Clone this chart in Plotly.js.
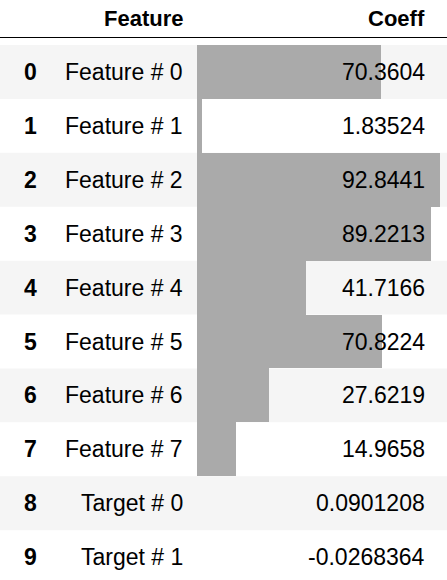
<!DOCTYPE html>
<html><head><script src="https://cdn.plot.ly/plotly-3.0.1.min.js"></script>
<style>body{margin:0}</style></head><body>
<div id="c" style="width:447px;height:580px"></div>
<script>
var rowIndex=[0,1,2,3,4,5,6,7,8,9];
var features=["Feature # 0","Feature # 1","Feature # 2","Feature # 3","Feature # 4","Feature # 5","Feature # 6","Feature # 7","Target # 0","Target # 1"];
var coeffLabels=["70.3604","1.83524","92.8441","89.2213","41.7166","70.8224","27.6219","14.9658","0.0901208","-0.0268364"];
var coeffs=[70.3604,1.83524,92.8441,89.2213,41.7166,70.8224,27.6219,14.9658,0.0901208,-0.0268364];
var font="Liberation Sans, Arial, sans-serif";
var shapes=[],ann=[];
rowIndex.forEach(function(i){
  if(i%2===0) shapes.push({type:'rect',xref:'paper',yref:'y',x0:0,x1:1,y0:i-0.5,y1:i+0.5,fillcolor:'#f5f5f5',line:{width:0},layer:'below'});
  ann.push({xref:'paper',yref:'y',x:30/447,y:i,text:'<b>'+i+'</b>',showarrow:false,xanchor:'center',font:{family:font,size:23,color:'#000'}});
  ann.push({xref:'paper',yref:'y',x:185/447,y:i,text:features[i],showarrow:false,xanchor:'right',font:{family:font,size:23,color:'#000'}});
  ann.push({xref:'paper',yref:'y',x:427/447,y:i,text:coeffLabels[i],showarrow:false,xanchor:'right',font:{family:font,size:23,color:'#000'}});
});
shapes.push({type:'line',xref:'paper',yref:'y',x0:0,x1:1,y0:-0.64,y1:-0.64,line:{color:'#000',width:1}});
ann.push({xref:'paper',yref:'y',x:185/447,y:-1.0,text:'<b>Feature</b>',showarrow:false,xanchor:'right',font:{family:font,size:22,color:'#000'}});
ann.push({xref:'paper',yref:'y',x:427/447,y:-1.0,text:'<b>Coeff</b>',showarrow:false,xanchor:'right',font:{family:font,size:22,color:'#000'}});
var vmin=Math.min.apply(null,coeffs);
Plotly.newPlot('c',[{type:'bar',orientation:'h',x:coeffs.map(function(v){return v-vmin;}),base:vmin,y:rowIndex,marker:{color:'#aaaaaa',line:{width:0}},width:1,hoverinfo:'skip'}],{
  width:447,height:580,margin:{l:0,r:0,t:0,b:0},paper_bgcolor:'#fff',plot_bgcolor:'rgba(0,0,0,0)',
  showlegend:false,bargap:0,
  xaxis:{domain:[197/447,440/447],range:[vmin,Math.max.apply(null,coeffs)],visible:false,fixedrange:true},
  yaxis:{range:[9.425,-1.336],visible:false,fixedrange:true},
  shapes:shapes,annotations:ann
},{displayModeBar:false,staticPlot:true});
</script></body></html>
